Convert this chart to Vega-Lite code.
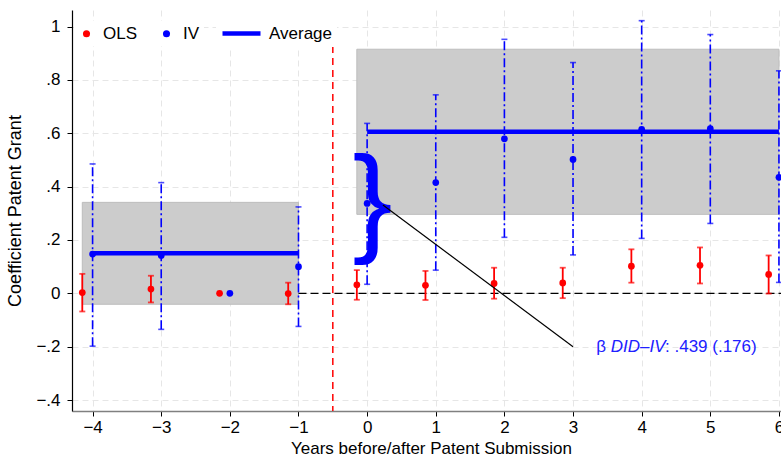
{
  "$schema": "https://vega.github.io/schema/vega-lite/v6.json",
  "width": 709,
  "height": 401,
  "autosize": {"type": "none"},
  "padding": {"left": 72, "top": 10, "right": 0, "bottom": 46},
  "background": "white",
  "config": {
    "font": "Liberation Sans",
    "view": {"stroke": null},
    "axis": {
      "grid": true,
      "gridColor": "#e6e6e6",
      "gridDash": [6, 4],
      "gridWidth": 1,
      "labelFontSize": 17,
      "labelColor": "black",
      "titleFontSize": 17,
      "titleFontWeight": "normal",
      "titleColor": "black",
      "tickColor": "black",
      "tickSize": 5
    },
    "axisX": {"domainColor": "#808080", "domainWidth": 1.5, "labelPadding": 3, "titlePadding": 5},
    "axisY": {"domainColor": "black", "domainWidth": 1.2, "labelPadding": 7, "titlePadding": 11, "titleFontSize": 18}
  },
  "datasets": {
    "coef": [
      {"model": "OLS", "x": -4.15, "est": 0.003, "lo": -0.068, "hi": 0.073},
      {"model": "OLS", "x": -3.15, "est": 0.016, "lo": -0.034, "hi": 0.066},
      {"model": "OLS", "x": -2.15, "est": 0.0, "lo": null, "hi": null},
      {"model": "OLS", "x": -1.15, "est": -0.001, "lo": -0.041, "hi": 0.040},
      {"model": "OLS", "x": -0.15, "est": 0.032, "lo": -0.024, "hi": 0.087},
      {"model": "OLS", "x": 0.85, "est": 0.030, "lo": -0.025, "hi": 0.084},
      {"model": "OLS", "x": 1.85, "est": 0.037, "lo": -0.020, "hi": 0.096},
      {"model": "OLS", "x": 2.85, "est": 0.039, "lo": -0.018, "hi": 0.096},
      {"model": "OLS", "x": 3.85, "est": 0.102, "lo": 0.040, "hi": 0.165},
      {"model": "OLS", "x": 4.85, "est": 0.105, "lo": 0.037, "hi": 0.172},
      {"model": "OLS", "x": 5.85, "est": 0.071, "lo": -0.001, "hi": 0.142},
      {"model": "IV", "x": -4, "est": 0.147, "lo": -0.198, "hi": 0.485},
      {"model": "IV", "x": -3, "est": 0.142, "lo": -0.135, "hi": 0.415},
      {"model": "IV", "x": -2, "est": 0.0, "lo": null, "hi": null},
      {"model": "IV", "x": -1, "est": 0.100, "lo": -0.124, "hi": 0.324},
      {"model": "IV", "x": 0, "est": 0.337, "lo": 0.034, "hi": 0.637},
      {"model": "IV", "x": 1, "est": 0.415, "lo": 0.087, "hi": 0.744},
      {"model": "IV", "x": 2, "est": 0.579, "lo": 0.210, "hi": 0.952},
      {"model": "IV", "x": 3, "est": 0.502, "lo": 0.144, "hi": 0.865},
      {"model": "IV", "x": 4, "est": 0.615, "lo": 0.206, "hi": 1.022},
      {"model": "IV", "x": 5, "est": 0.617, "lo": 0.262, "hi": 0.970},
      {"model": "IV", "x": 6, "est": 0.435, "lo": 0.041, "hi": 0.834}
    ],
    "boxes": [
      {"x1": -4.15, "x2": -1.0, "y1": -0.041, "y2": 0.341},
      {"x1": -0.15, "x2": 6.0, "y1": 0.296, "y2": 0.915}
    ],
    "avg": [
      {"series": "Average", "period": "pre", "x": -4, "y": 0.15},
      {"series": "Average", "period": "pre", "x": -1, "y": 0.15},
      {"series": "Average", "period": "post", "x": 0, "y": 0.606},
      {"series": "Average", "period": "post", "x": 6, "y": 0.606}
    ]
  },
  "layer": [
    {
      "data": {"name": "boxes"},
      "mark": {"type": "rect", "fill": "#cccccc", "stroke": "#bdbdbd", "strokeWidth": 1},
      "encoding": {
        "x": {
          "field": "x1", "type": "quantitative",
          "scale": {"domain": [-4.3, 6.03], "nice": false, "zero": false},
          "axis": {
            "title": "Years before/after Patent Submission",
            "values": [-4, -3, -2, -1, 0, 1, 2, 3, 4, 5, 6],
            "format": "d",
            "titleX": 359
          }
        },
        "x2": {"field": "x2"},
        "y": {
          "field": "y1", "type": "quantitative",
          "scale": {"domain": [-0.441, 1.062], "nice": false, "zero": false},
          "axis": {
            "title": "Coefficient Patent Grant",
            "values": [-0.4, -0.2, 0, 0.2, 0.4, 0.6, 0.8, 1],
            "labelExpr": "datum.value == 0 ? '0' : datum.value == 1 ? '1' : (datum.value < 0 ? '\u2212' : '') + substring(format(abs(datum.value), '.1f'), 1)"
          }
        },
        "y2": {"field": "y2"}
      }
    },
    {
      "data": {"values": [{"x1": -1.0, "x2": 6.03, "y": 0}]},
      "mark": {"type": "rule", "color": "black", "strokeDash": [8, 4], "strokeWidth": 1.3},
      "encoding": {
        "x": {"field": "x1", "type": "quantitative"},
        "x2": {"field": "x2"},
        "y": {"field": "y", "type": "quantitative"}
      }
    },
    {
      "data": {"values": [{"x": -0.5}]},
      "mark": {"type": "rule", "color": "#ff0000", "strokeDash": [7, 5], "strokeWidth": 1.5},
      "encoding": {"x": {"field": "x", "type": "quantitative"}}
    },
    {
      "data": {"name": "coef"},
      "transform": [{"filter": "datum.model == 'OLS' && isValid(datum.lo)"}],
      "mark": {"type": "rule", "color": "#ff0000", "strokeWidth": 1.8},
      "encoding": {
        "x": {"field": "x", "type": "quantitative"},
        "y": {"field": "lo", "type": "quantitative"},
        "y2": {"field": "hi"}
      }
    },
    {
      "data": {"name": "coef"},
      "transform": [
        {"filter": "datum.model == 'OLS' && isValid(datum.lo)"},
        {"fold": ["lo", "hi"], "as": ["end", "val"]}
      ],
      "mark": {"type": "tick", "orient": "horizontal", "color": "#ff0000", "size": 6, "thickness": 1.8},
      "encoding": {
        "x": {"field": "x", "type": "quantitative"},
        "y": {"field": "val", "type": "quantitative"}
      }
    },
    {
      "data": {"name": "coef"},
      "transform": [{"filter": "datum.model == 'IV' && isValid(datum.lo)"}],
      "mark": {"type": "rule", "color": "#0000ff", "strokeWidth": 1.6, "strokeDash": [9, 3, 2, 3]},
      "encoding": {
        "x": {"field": "x", "type": "quantitative"},
        "y": {"field": "lo", "type": "quantitative"},
        "y2": {"field": "hi"}
      }
    },
    {
      "data": {"name": "coef"},
      "transform": [
        {"filter": "datum.model == 'IV' && isValid(datum.lo)"},
        {"fold": ["lo", "hi"], "as": ["end", "val"]}
      ],
      "mark": {"type": "tick", "orient": "horizontal", "color": "#0000ff", "size": 6, "thickness": 1.6},
      "encoding": {
        "x": {"field": "x", "type": "quantitative"},
        "y": {"field": "val", "type": "quantitative"}
      }
    },
    {
      "data": {"name": "avg"},
      "mark": {"type": "line", "strokeWidth": 4.5},
      "encoding": {
        "x": {"field": "x", "type": "quantitative"},
        "y": {"field": "y", "type": "quantitative"},
        "detail": {"field": "period"},
        "color": {
          "field": "series", "type": "nominal",
          "scale": {"domain": ["Average"], "range": ["#0000ff"]},
          "legend": {
            "title": null, "orient": "none", "legendX": 144, "legendY": -2,
            "symbolType": "stroke", "symbolSize": 1444, "symbolStrokeWidth": 4.5,
            "labelFontSize": 17, "labelColor": "black", "labelOffset": 6,
            "fillColor": "white", "padding": 4
          }
        }
      }
    },
    {
      "data": {"name": "coef"},
      "mark": {"type": "point", "filled": true, "opacity": 1, "size": 45},
      "encoding": {
        "x": {"field": "x", "type": "quantitative"},
        "y": {"field": "est", "type": "quantitative"},
        "color": {
          "field": "model", "type": "nominal",
          "scale": {"domain": ["OLS", "IV"], "range": ["#ff0000", "#0000ff"]},
          "legend": {
            "title": null, "orient": "none", "legendX": 2, "legendY": 11,
            "direction": "horizontal", "symbolType": "circle", "symbolSize": 50,
            "symbolStrokeWidth": 0, "symbolOpacity": 1,
            "labelFontSize": 17, "labelColor": "black", "labelOffset": 8,
            "columnPadding": 20, "fillColor": "white", "padding": 4
          }
        }
      }
    },
    {
      "data": {"values": [{"x": 0.08, "y": 0.335, "label": "}"}]},
      "mark": {"type": "text", "fontSize": 120, "color": "#0000ff", "align": "center", "baseline": "middle", "font": "Liberation Sans"},
      "encoding": {
        "x": {"field": "x", "type": "quantitative"},
        "y": {"field": "y", "type": "quantitative"},
        "text": {"field": "label"}
      }
    },
    {
      "data": {"values": [{"x1": 0.23, "y1": 0.331, "x2": 3.0, "y2": -0.2}]},
      "mark": {"type": "rule", "color": "black", "strokeWidth": 1.2},
      "encoding": {
        "x": {"field": "x1", "type": "quantitative"},
        "y": {"field": "y1", "type": "quantitative"},
        "x2": {"field": "x2"},
        "y2": {"field": "y2"}
      }
    },
    {
      "data": {"values": [
        {"x": 3.34, "y": -0.2, "label": "\u03b2"},
        {"x": 4.34, "y": -0.2, "label": ": .439 (.176)"}
      ]},
      "mark": {"type": "text", "fontSize": 17, "color": "#2020ff", "align": "left", "baseline": "middle"},
      "encoding": {
        "x": {"field": "x", "type": "quantitative"},
        "y": {"field": "y", "type": "quantitative"},
        "text": {"field": "label"}
      }
    },
    {
      "data": {"values": [{"x": 3.55, "y": -0.2, "label": "DID\u2013IV"}]},
      "mark": {"type": "text", "fontSize": 17, "fontStyle": "italic", "color": "#2020ff", "align": "left", "baseline": "middle"},
      "encoding": {
        "x": {"field": "x", "type": "quantitative"},
        "y": {"field": "y", "type": "quantitative"},
        "text": {"field": "label"}
      }
    }
  ],
  "resolve": {"scale": {"color": "independent"}}
}
